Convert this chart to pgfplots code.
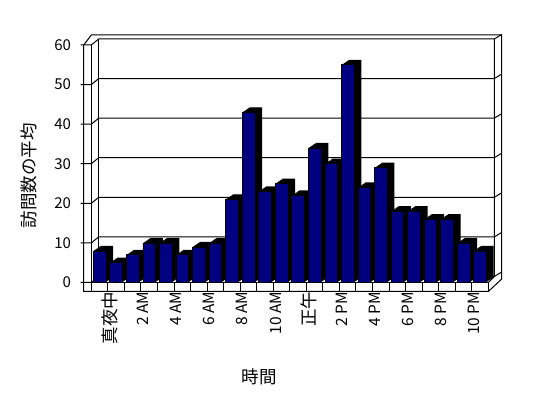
\documentclass[border=0pt]{standalone}
\usepackage{pgfplots}
\pgfplotsset{compat=1.18}
\usepackage{fontspec}
\setmainfont{Noto Sans CJK JP}
\definecolor{barblue}{RGB}{0,0,128}
\pgfplotstableread{
k v
0 8
1 5
2 7
3 10
4 10
5 7
6 9
7 10
8 21
9 43
10 23
11 25
12 22
13 34
14 30
15 55
16 24
17 29
18 18
19 18
20 16
21 16
22 10
23 8
}\datatable
\begin{document}
\begin{tikzpicture}
% 3D frame (walls, floor, gridlines) in pixel coordinates
\begin{scope}[shift={(0,398pt)}, x={(1pt,0pt)}, y={(0pt,-1pt)}, line width=1pt]
  \foreach \v in {0,10,20,30,40,50,60}{
    \pgfmathsetmacro\yf{282.5-3.9583*\v}
    \pgfmathsetmacro\yb{\yf-6}
    \pgfmathsetmacro\yr{\yb-4.5}
    \draw (80.7,\yf) -- (91.3,\yf) -- (98.7,\yb) -- (494.3,\yb) -- (501.7,\yr);
  }
  \draw (83.7,291.5) -- (83.7,45) -- (91.3,35) -- (501.7,35) -- (501.7,279) -- (488.3,291.5) -- cycle;
  \draw (91.3,291.5) -- (91.3,45);
  \draw (98.7,39) -- (98.7,276.5);
  \draw (494.3,39) -- (494.3,276.5) -- (488.3,282.5);
  \draw (91.3,282.5) -- (488.3,282.5);
  \foreach \k in {0,...,24}{
    \pgfmathsetmacro\xx{91.3+16.5417*\k}
    \draw (\xx,282.5) -- (\xx,291.5);
  }
\end{scope}
\begin{axis}[
  at={(83.7pt,106.5pt)}, anchor=south west,
  scale only axis, width=404.6pt, height=246.5pt,
  xmin=-0.96, xmax=23.5, ymin=-2.274, ymax=60,
  clip=false,
  axis line style={draw=none},
  major tick length=0pt,
  ytick={0,10,...,60},
  /pgf/number format/assume math mode=true,
  yticklabel style={font=\fontsize{15}{15}\selectfont, anchor=east, inner sep=0pt, xshift=-12.5pt},
  xtick={0,2,...,22},
  xticklabels={{\fontsize{17.5}{17.5}\selectfont 真夜中},2 AM,4 AM,6 AM,8 AM,10 AM,{\fontsize{17.5}{17.5}\selectfont 正午},2 PM,4 PM,6 PM,8 PM,10 PM},
  xticklabel style={font=\fontsize{15.5}{16}\selectfont, rotate=90, anchor=east, inner sep=0pt},
  every x tick label/.append style={yshift=-10.5pt},
  xlabel={時間},
  xlabel style={font=\fontsize{17.5}{17.5}\selectfont, at={(axis description cs:0.4333,-0.3469)}, anchor=center},
  ylabel={訪問数の平均},
  ylabel style={font=\fontsize{17.5}{17.5}\selectfont, at={(axis description cs:-0.1364,0.4686)}, anchor=center},
]
\pgfplotsinvokeforeach{1,...,8}{
  \addplot[ybar, bar shift=0pt, bar width=12.7pt, fill=black, draw=none,
           xshift=#1*0.9125pt, yshift=#1*0.625pt] table[x=k, y=v] {\datatable};
}
\addplot[ybar, bar shift=0pt, bar width=12.7pt, fill=barblue, draw=black, line width=0.6pt] table[x=k, y=v] {\datatable};
\end{axis}
\pgfresetboundingbox
\useasboundingbox (0,0) rectangle (548pt,398pt);
\end{tikzpicture}
\end{document}
